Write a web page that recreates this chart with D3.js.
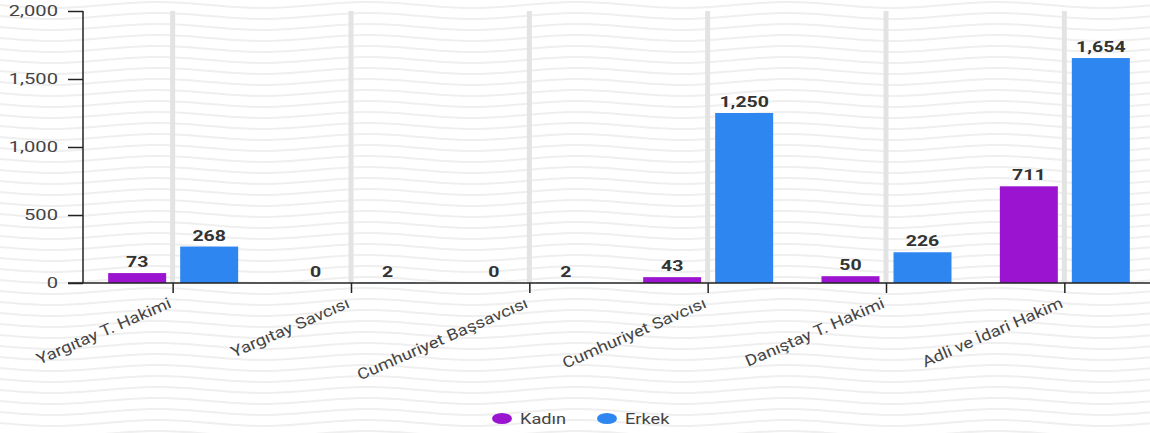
<!DOCTYPE html>
<html>
<head>
<meta charset="utf-8">
<script src="https://cdn.jsdelivr.net/npm/d3@7"></script>
<style>
html,body{margin:0;padding:0;background:#fff;}
svg{display:block;}
text{font-family:Roboto,"Noto Sans",sans-serif;}
</style>
</head>
<body>
<svg id="chart" width="1150" height="433"></svg>
<script>
const categories = ["Yargıtay T. Hakimi","Yargıtay Savcısı","Cumhuriyet Başsavcısı","Cumhuriyet Savcısı","Danıştay T. Hakimi","Adli ve İdari Hakim"];
const seriesNames = ["Kadın","Erkek"];
const kadin = [73,0,0,43,50,711];
const erkek = [268,2,2,1250,226,1654];
const yTicks = [0,500,1000,1500,2000];
const colors = ["#9b15d0","#2e86f1"];

(function(){
const W = 1150, H = 433;
const SX = 1.3; // horizontal text stretch
const svg = d3.select("#chart");

// wavy background
const bg = svg.append("g");
const waveLine = d3.line().curve(d3.curveBasis);
for (let y0 = -6; y0 < H + 10; y0 += 11) {
  const pts = d3.range(0, W + 11, 10).map(x => [x, y0 + 3 * Math.sin(2 * Math.PI * x / 210)]);
  bg.append("path").attr("d", waveLine(pts)).attr("fill","none")
    .attr("stroke","#efefef").attr("stroke-width",2);
}

const plotLeft = 83, plotTop = 11, base = 283;
const y = d3.scaleLinear().domain([0,2000]).range([base, plotTop]);
const x0 = d3.scaleBand().domain(categories).range([plotLeft + 1, 1154]).padding(0);
const x1 = d3.scaleBand().domain(seriesNames).range([0,130]).paddingInner(14/72).paddingOuter(0);
const fmt = d3.format(",");

const data = categories.map((c,i) => ({cat:c, vals:[kadin[i], erkek[i]]}));

// gray vertical center lines
svg.append("g").selectAll("line").data(categories).join("line")
  .attr("x1", d => x0(d) + x0.bandwidth()/2 - 0.5).attr("x2", d => x0(d) + x0.bandwidth()/2 - 0.5)
  .attr("y1", plotTop).attr("y2", base)
  .attr("stroke","#e3e3e3").attr("stroke-width",5);

// bars
const groups = svg.append("g").selectAll("g").data(data).join("g")
  .attr("transform", d => `translate(${x0(d.cat) + x0.bandwidth()/2 - 65},0)`);
groups.selectAll("rect").data(d => d.vals.map((v,j) => ({k:seriesNames[j], v, j}))).join("rect")
  .attr("x", d => x1(d.k)).attr("width", x1.bandwidth())
  .attr("y", d => y(d.v)).attr("height", d => base - y(d.v))
  .attr("fill", d => colors[d.j]);
groups.selectAll("text").data(d => d.vals.map((v,j) => ({k:seriesNames[j], v, j}))).join("text")
  .attr("transform", d => `translate(${x1(d.k) + x1.bandwidth()/2},${y(d.v) - 6}) scale(${SX},1)`)
  .attr("text-anchor","middle").attr("font-size",15).attr("font-weight","bold")
  .attr("fill","#333").text(d => fmt(d.v));

// y axis
const yAxis = svg.append("g").attr("transform", `translate(${plotLeft},0)`)
  .call(d3.axisLeft(y).tickValues(yTicks).tickSize(15).tickPadding(10).tickFormat(fmt));
yAxis.select(".domain").attr("stroke","#222").attr("stroke-width",1.5).attr("d", `M0,${plotTop}V${base}`);
yAxis.selectAll(".tick line").attr("stroke","#222").attr("stroke-width",1.5);
yAxis.selectAll(".tick text").attr("font-size",15.5).attr("fill","#444")
  .attr("text-anchor","end").attr("x", null)
  .attr("transform", `translate(-25,0) scale(${SX},1)`);

// x axis
const xAxis = svg.append("g").attr("transform", `translate(0,${base})`)
  .call(d3.axisBottom(x0).tickSize(10).tickFormat(""));
xAxis.select(".domain").attr("stroke","#222").attr("stroke-width",1.5).attr("d", `M68,0H${W}`);
xAxis.selectAll(".tick line").attr("stroke","#222").attr("stroke-width",1.5);
xAxis.selectAll(".tick").append("text")
  .attr("transform", `translate(-3,19) rotate(-23.5) scale(1.18,1)`)
  .attr("text-anchor","end").attr("dy","0.35em")
  .attr("font-size",15.5).attr("fill","#444")
  .text(d => d);

// legend
const legend = svg.append("g");
const lx = [502, 607];
seriesNames.forEach((n,i) => {
  legend.append("ellipse").attr("cx", lx[i]).attr("cy", 418.5).attr("rx",10).attr("ry",5.5).attr("fill", colors[i]);
  legend.append("text").attr("transform", `translate(${lx[i]+18},423.5) scale(${SX},1)`)
    .attr("font-size",14).attr("fill","#444").text(n);
});
})();
</script>
</body>
</html>
